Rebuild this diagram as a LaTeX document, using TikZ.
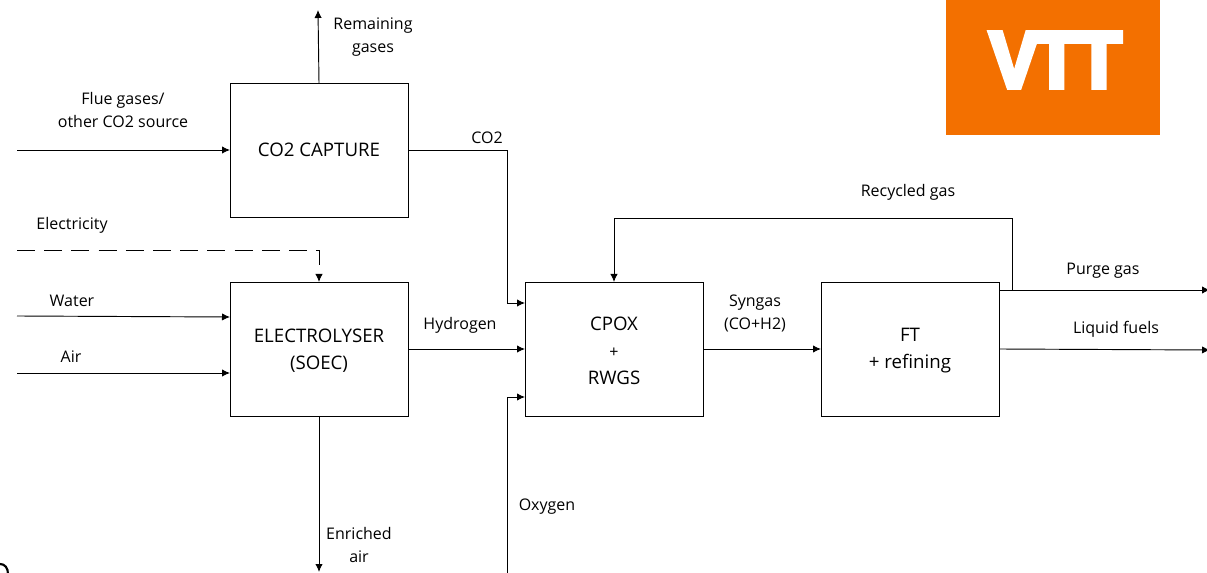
\documentclass[tikz,border=0pt]{standalone}
\usepackage{fontspec}
\setmainfont{Open Sans}
\newfontfamily\logofont[BoldFeatures={FakeBold=6}]{Liberation Sans}
\usetikzlibrary{arrows.meta,positioning}
\definecolor{vttorange}{RGB}{243,112,0}
\newcommand{\blockstrut}{\rule{0pt}{13pt}}
\tikzset{
    block/.style={rectangle, draw=black, line width=0.7pt, outer sep=0pt, text centered, text=black, minimum width=133.5pt, minimum height=100.5pt, inner sep=0pt, font=\fontsize{14}{20.25}\selectfont, align=center},
    tag/.style={text=black, inner sep=0pt, font=\fontsize{12}{17.25}\selectfont, align=center},
    flow/.style={->, line width=0.7pt},
    powerflow/.style={flow, dash pattern=on 13.5pt off 6.9pt}
}

\begin{document}
\begin{tikzpicture}[x=0.75pt, y=-0.75pt, >={Latex[length=6pt,width=5.5pt]}]
    \useasboundingbox (0,0) rectangle (1207,573);
    \clip (0,0) rectangle (1207,573);

    \node (Logo) [rectangle, fill=vttorange, minimum width=160.5pt, minimum height=101.25pt, inner sep=0pt] at (1053,67.5) {};
    \node (LogoText) [text=white, inner sep=0pt, font=\logofont\bfseries\fontsize{60}{60}\selectfont] at (1055.5,60) {\scalebox{0.93}[1]{V\kern-4ptT\kern-2.5ptT}};

    \node (Capture) [block] at (319,150) {CO2 CAPTURE};
    \node (Electrolyser) [block, below=48.75pt of Capture] {\blockstrut ELECTROLYSER\\(SOEC)};
    \node (Cpox) [block, right=87.75pt of Electrolyser] {\blockstrut CPOX\\{\fontsize{12}{20.25}\selectfont +}\\RWGS};
    \node (Refining) [block, right=88.5pt of Cpox] {\blockstrut FT\\+ refining};

    \coordinate (FlueSource) at (17,150);
    \coordinate (RemainingEnd) at (318,10);
    \coordinate (PowerSource) at (17,250);
    \coordinate (WaterSource) at (17,316);
    \coordinate (WaterIn) at (230,317);
    \coordinate (AirSource) at (17,373);
    \coordinate (AirIn) at (230,373);
    \coordinate (EnrichedEnd) at (319,572);
    \coordinate (Co2Bend) at (507,303);
    \coordinate (Co2In) at (525,303);
    \coordinate (OxygenSource) at (507,580);
    \coordinate (OxygenBend) at (507,397);
    \coordinate (OxygenIn) at (525,397);
    \coordinate (PurgeOut) at (999,290);
    \coordinate (PurgeEnd) at (1210,290);
    \coordinate (LiquidEnd) at (1210,350);
    \coordinate (RecycleTap) at (1012,290);
    \coordinate (RecycleTop) at (614,218);

    \draw [flow] (FlueSource) -- (Capture.west);
    \draw [flow] (Capture.north) -- (RemainingEnd);
    \draw [flow] (Capture.east) -| (Co2Bend) -- (Co2In);
    \draw [powerflow] (PowerSource) -| (Electrolyser.north);
    \draw [flow] (WaterSource) -- (WaterIn);
    \draw [flow] (AirSource) -- (AirIn);
    \draw [flow] (Electrolyser.south) -- (EnrichedEnd);
    \draw [flow] (Electrolyser.east) -- (Cpox.west);
    \draw [flow] (OxygenSource) -- (OxygenBend) -- (OxygenIn);
    \draw [flow] (Cpox.east) -- (Refining.west);
    \draw [flow] (RecycleTap) |- (RecycleTop) -- (Cpox.north);
    \draw [flow] (PurgeOut) -- (PurgeEnd);
    \draw [flow] (Refining.east) -- (LiquidEnd);

    \node (Remaining) [tag] at (373,37.5) {Remaining\\gases};
    \node (FlueGases) [tag] at (123,110.5) {Flue gases/\\other CO2 source};
    \node (Co2Tag) [tag] at (487,138) {CO2};
    \node (Electricity) [tag] at (72,225) {Electricity};
    \node (Water) [tag] at (72,301) {Water};
    \node (Air) [tag] at (71,357) {Air};
    \node (Hydrogen) [tag] at (460,325) {Hydrogen};
    \node (Oxygen) [tag] at (547,507) {Oxygen};
    \node (Enriched) [tag] at (359,544.5) {Enriched\\air};
    \node (Syngas) [tag] at (755,313) {Syngas\\(CO+H2)};
    \node (Recycled) [tag] at (908,192) {Recycled gas};
    \node (Purge) [tag] at (1103,271) {Purge gas};
    \node (Liquid) [tag] at (1116,329) {Liquid fuels};

    \draw [line width=1.6pt] (0,564) .. controls (5,564) and (8,568) .. (8,574);
\end{tikzpicture}
\end{document}
